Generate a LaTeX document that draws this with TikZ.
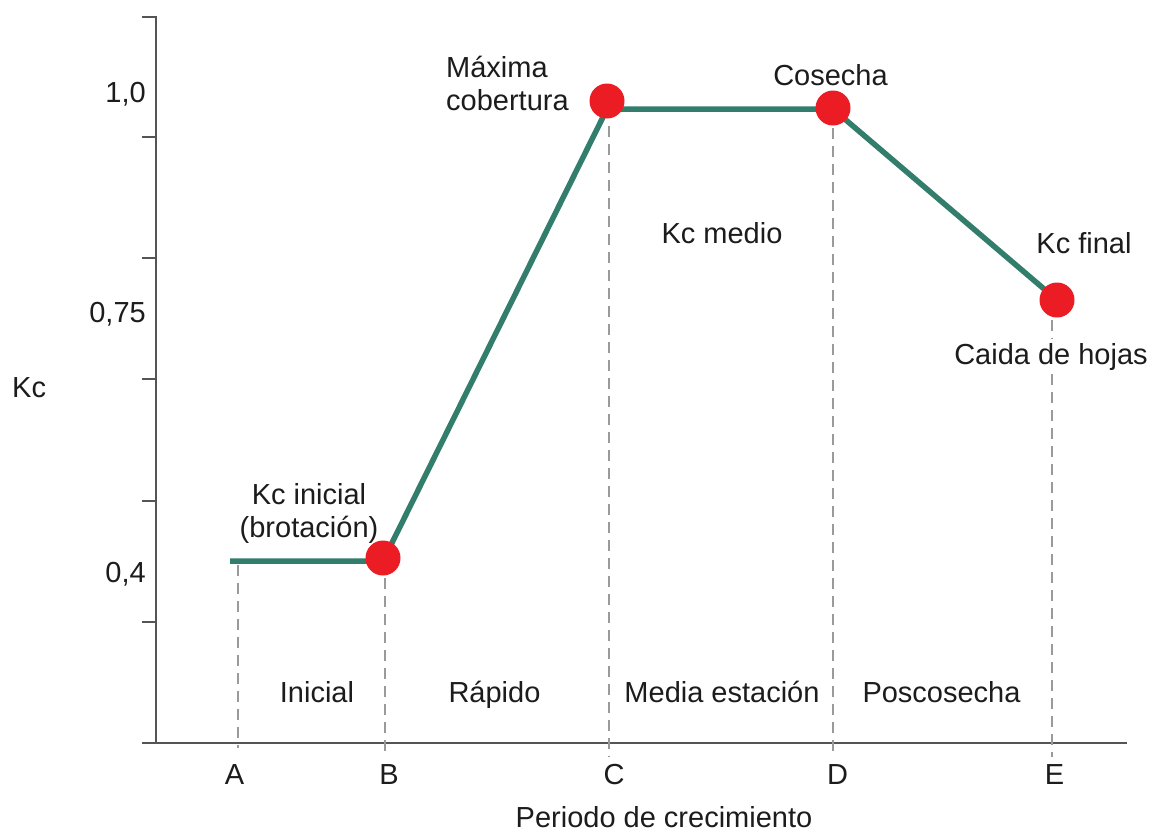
\documentclass[tikz,border=0pt]{standalone}
\usepackage{fontspec}
\setmainfont{Liberation Sans}
\definecolor{txt}{HTML}{1C1C1C}
\definecolor{axisgray}{HTML}{555555}
\definecolor{guidegray}{HTML}{9A9A9A}
\definecolor{kcgreen}{HTML}{327D6C}
\definecolor{dotred}{HTML}{EC1C24}
\begin{document}
\begin{tikzpicture}[x=1pt,y=-1pt,
  lbl/.style={font=\fontsize{29pt}{33pt}\selectfont, text=txt, inner sep=0pt},
  axisline/.style={draw=axisgray, line width=2pt},
  guide/.style={draw=guidegray, line width=2.2pt, dash pattern=on 11pt off 7pt},
  kcline/.style={draw=kcgreen, line width=5.5pt, line join=round},
  kcdot/.style={circle, fill=dotred, draw=none, minimum size=35pt, inner sep=0pt}]
\useasboundingbox (0,0) rectangle (1151,831);
\fill[white] (0,0) rectangle (1151,831);

% axes
\coordinate (ytop) at (156,16);
\coordinate (orig) at (156,743);
\coordinate (xstart) at (142,743);
\coordinate (xend) at (1127,743);
\draw[axisline] (ytop) -- (orig);
\draw[axisline] (xstart) -- (xend);
\foreach \ty [count=\i] in {17,137,258,379,501,622}{
  \coordinate (tl\i) at (142,\ty);
  \coordinate (tr\i) at (156,\ty);
  \draw[axisline] (tl\i) -- (tr\i);
}

% guide lines
\coordinate (gA1) at (238,565); \coordinate (gA2) at (238,748);
\coordinate (gB1) at (385,578); \coordinate (gB2) at (385,757);
\coordinate (gC1) at (609,126); \coordinate (gC2) at (609,757);
\coordinate (gD1) at (833,128); \coordinate (gD2) at (833,757);
\coordinate (gE1) at (1052,320); \coordinate (gE2) at (1052,757);
\draw[guide] (gA1) -- (gA2);
\draw[guide] (gB1) -- (gB2);
\draw[guide] (gC1) -- (gC2);
\draw[guide] (gD1) -- (gD2);
\draw[guide] (gE1) -- (gE2);

% Kc curve
\coordinate (kA) at (230,561);
\coordinate (kB) at (383,561);
\coordinate (kC) at (607,109);
\coordinate (kD) at (833,109);
\coordinate (kE) at (1057,300);
\draw[kcline] (kA) -- (kB) -- (kC) -- (kD) -- (kE);

\node[kcdot] (dB) at (383,558) {};
\node[kcdot] (dC) at (607,101) {};
\node[kcdot] (dD) at (833,108) {};
\node[kcdot] (dE) at (1057,300) {};

% y labels
\node[lbl, anchor=base east] (y10) at (146,102) {1,0};
\node[lbl, anchor=base east] (y075) at (146,322) {0,75};
\node[lbl, anchor=base east] (y04) at (146,582) {0,4};
\node[lbl, anchor=base west] (ylab) at (12,397) {Kc};

% x labels
\node[lbl, anchor=base] (xA) at (234.5,784) {A};
\node[lbl, anchor=base] (xB) at (389,784) {B};
\node[lbl, anchor=base] (xC) at (614,784) {C};
\node[lbl, anchor=base] (xD) at (837.5,784) {D};
\node[lbl, anchor=base] (xE) at (1054.5,784) {E};
\node[lbl, anchor=base] (xlab) at (664,827) {Periodo de crecimiento};

% stage labels
\node[lbl, anchor=base] (s1) at (317,702) {Inicial};
\node[lbl, anchor=base] (s2) at (494.5,702) {Rápido};
\node[lbl, anchor=base] (s3) at (722,702) {Media estación};
\node[lbl, anchor=base] (s4) at (941.5,702) {Poscosecha};

% point labels
\node[lbl, anchor=base] (ki1) at (309,504) {Kc inicial};
\node[lbl, anchor=base] (ki2) at (309,537) {(brotación)};
\node[lbl, anchor=base west] (mc1) at (446,77) {Máxima};
\node[lbl, anchor=base west] (mc2) at (446,110) {cobertura};
\node[lbl, anchor=base] (cos) at (830.5,85) {Cosecha};
\node[lbl, anchor=base] (kmed) at (722,243) {Kc medio};
\node[lbl, anchor=base] (kfin) at (1084,253) {Kc final};
\node[lbl, anchor=base, fill=white, inner ysep=4pt] (caida) at (1051,364) {Caida de hojas};
\end{tikzpicture}
\end{document}
